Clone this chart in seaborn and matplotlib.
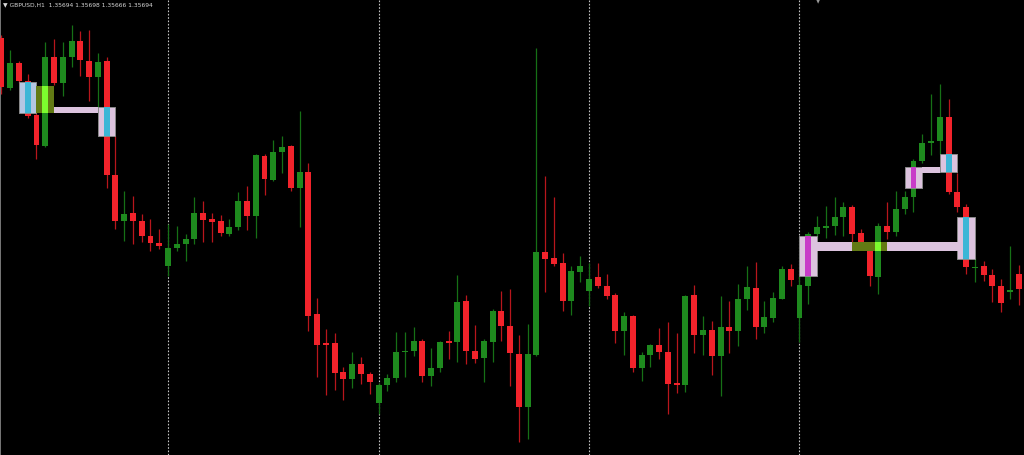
import numpy as np
import pandas as pd
import matplotlib
matplotlib.use("Agg")
import matplotlib.pyplot as plt
import seaborn as sns
from matplotlib.patches import Rectangle

# =====================================================
# DATA - GBPUSD H1 candles
# =====================================================

opens = [
    1.36945, 1.36695, 1.36820, 1.36730, 1.36560, 1.36405, 1.36850, 1.36720, 1.36850, 1.36930,
    1.36830, 1.36750, 1.36830, 1.36260, 1.36030, 1.36070, 1.36030, 1.35955, 1.35920, 1.35805,
    1.35895, 1.35915, 1.35940, 1.36070, 1.36040, 1.36030, 1.35965, 1.36000, 1.36130, 1.36055,
    1.36355, 1.36235, 1.36375, 1.36405, 1.36195, 1.36275, 1.35565, 1.35420, 1.35420, 1.35275,
    1.35240, 1.35315, 1.35265, 1.35120, 1.35210, 1.35245, 1.35375, 1.35380, 1.35430, 1.35255,
    1.35295, 1.35430, 1.35425, 1.35630, 1.35380, 1.35345, 1.35425, 1.35580, 1.35505, 1.35365,
    1.35100, 1.35360, 1.35875, 1.35845, 1.35820, 1.35630, 1.35775, 1.35680, 1.35750, 1.35705,
    1.35660, 1.35480, 1.35555, 1.35295, 1.35360, 1.35410, 1.35375, 1.35220, 1.35210, 1.35660,
    1.35460, 1.35485, 1.35355, 1.35500, 1.35480, 1.35640, 1.35695, 1.35500, 1.35545, 1.35640,
    1.35790, 1.35545, 1.35705, 1.35965, 1.35995, 1.36005, 1.36050, 1.36100, 1.35970, 1.35910,
    1.35750, 1.36005, 1.35975, 1.36090, 1.36150, 1.36330, 1.36420, 1.36430, 1.36550, 1.36175,
    1.36100, 1.35795, 1.35805, 1.35760, 1.35705, 1.35675, 1.35765,
]
highs = [
    1.36960, 1.36885, 1.36830, 1.36765, 1.36570, 1.36925, 1.36940, 1.36925, 1.37010, 1.36980,
    1.36985, 1.36870, 1.36850, 1.36455, 1.36180, 1.36155, 1.36065, 1.36040, 1.35990, 1.36015,
    1.36005, 1.35965, 1.36150, 1.36130, 1.36070, 1.36060, 1.36040, 1.36175, 1.36205, 1.36365,
    1.36365, 1.36435, 1.36455, 1.36410, 1.36580, 1.36320, 1.35645, 1.35490, 1.35470, 1.35300,
    1.35375, 1.35350, 1.35275, 1.35220, 1.35265, 1.35475, 1.35475, 1.35500, 1.35440, 1.35395,
    1.35430, 1.35480, 1.35760, 1.35660, 1.35510, 1.35440, 1.35590, 1.35680, 1.35690, 1.35460,
    1.35515, 1.36895, 1.36255, 1.36150, 1.35870, 1.35805, 1.35855, 1.35820, 1.35820, 1.35765,
    1.35670, 1.35575, 1.35560, 1.35375, 1.35415, 1.35495, 1.35525, 1.35470, 1.35660, 1.35710,
    1.35555, 1.35530, 1.35655, 1.35630, 1.35715, 1.35805, 1.35825, 1.35630, 1.35675, 1.35805,
    1.35815, 1.35755, 1.35975, 1.36055, 1.36105, 1.36150, 1.36125, 1.36110, 1.35990, 1.35920,
    1.36020, 1.36125, 1.36180, 1.36180, 1.36340, 1.36465, 1.36665, 1.36715, 1.36640, 1.36270,
    1.36115, 1.35850, 1.35830, 1.35790, 1.35740, 1.35905, 1.35810,
]
lows = [
    1.36665, 1.36685, 1.36720, 1.36545, 1.36340, 1.36400, 1.36710, 1.36655, 1.36800, 1.36755,
    1.36630, 1.36590, 1.36195, 1.35990, 1.35930, 1.35915, 1.35925, 1.35880, 1.35890, 1.35755,
    1.35880, 1.35830, 1.35915, 1.35925, 1.35925, 1.35955, 1.35955, 1.35985, 1.35985, 1.35945,
    1.36160, 1.36230, 1.36270, 1.36180, 1.36000, 1.35480, 1.35250, 1.35160, 1.35185, 1.35135,
    1.35195, 1.35215, 1.35165, 1.35065, 1.35180, 1.35225, 1.35250, 1.35355, 1.35225, 1.35205,
    1.35275, 1.35340, 1.35325, 1.35315, 1.35320, 1.35225, 1.35325, 1.35430, 1.35205, 1.34925,
    1.34940, 1.35355, 1.35675, 1.35805, 1.35580, 1.35560, 1.35725, 1.35605, 1.35695, 1.35640,
    1.35420, 1.35360, 1.35275, 1.35230, 1.35300, 1.35340, 1.35065, 1.35170, 1.35175, 1.35370,
    1.35360, 1.35260, 1.35155, 1.35370, 1.35405, 1.35585, 1.35440, 1.35470, 1.35525, 1.35640,
    1.35705, 1.35425, 1.35615, 1.35940, 1.35945, 1.35960, 1.35955, 1.35925, 1.35890, 1.35705,
    1.35665, 1.35940, 1.35955, 1.36065, 1.36075, 1.36320, 1.36360, 1.36365, 1.36165, 1.36075,
    1.35765, 1.35725, 1.35730, 1.35625, 1.35575, 1.35640, 1.35610,
]
closes = [
    1.36700, 1.36820, 1.36730, 1.36555, 1.36410, 1.36850, 1.36720, 1.36850, 1.36930, 1.36835,
    1.36750, 1.36825, 1.36260, 1.36030, 1.36065, 1.36030, 1.35955, 1.35920, 1.35905, 1.35895,
    1.35915, 1.35940, 1.36070, 1.36035, 1.36025, 1.35970, 1.36000, 1.36130, 1.36055, 1.36360,
    1.36240, 1.36375, 1.36400, 1.36195, 1.36275, 1.35555, 1.35410, 1.35410, 1.35270, 1.35240,
    1.35315, 1.35265, 1.35225, 1.35210, 1.35245, 1.35375, 1.35380, 1.35430, 1.35255, 1.35295,
    1.35425, 1.35420, 1.35625, 1.35380, 1.35340, 1.35430, 1.35580, 1.35505, 1.35370, 1.35100,
    1.35365, 1.35875, 1.35840, 1.35815, 1.35630, 1.35780, 1.35805, 1.35740, 1.35705, 1.35655,
    1.35480, 1.35555, 1.35295, 1.35360, 1.35410, 1.35375, 1.35215, 1.35210, 1.35655, 1.35460,
    1.35485, 1.35355, 1.35500, 1.35480, 1.35640, 1.35700, 1.35500, 1.35550, 1.35645, 1.35790,
    1.35735, 1.35710, 1.35965, 1.36000, 1.36005, 1.36050, 1.36100, 1.35965, 1.35910, 1.35755,
    1.36005, 1.35975, 1.36090, 1.36150, 1.36330, 1.36420, 1.36430, 1.36550, 1.36175, 1.36100,
    1.35800, 1.35800, 1.35760, 1.35705, 1.35620, 1.35685, 1.35690,
]

# first bar of each trading day (period separators)
day_breaks = [19, 43, 67, 91]

# order-block zones: bar range, price range, marked bar, zone type
zone_start = [2, 11, 91, 109, 103, 107]
zone_end = [4, 13, 93, 111, 105, 109]
zone_top = [1.36725, 1.36600, 1.35955, 1.36050, 1.36300, 1.36365]
zone_bottom = [1.36570, 1.36455, 1.35755, 1.35840, 1.36195, 1.36275]
zone_bar = [3, 12, 92, 110, 104, 108]
zone_type = ["origin", "bear", "bull", "bear", "bull", "bear"]

# links between zones
link_start = [6, 93, 105]
link_end = [11, 109, 107]
link_top = [1.36600, 1.35925, 1.36300]
link_bottom = [1.36570, 1.35880, 1.36270]

# touch / break zones
touch_start = [4, 97]
touch_end = [6, 101]
touch_top = [1.36705, 1.35925]
touch_bottom = [1.36570, 1.35880]
touch_bar = [5, 100]

title_text = "\u25bc GBPUSD,H1  1.35694 1.35698 1.35666 1.35694"

df = pd.DataFrame({"open": opens, "high": highs, "low": lows, "close": closes})
df["bar"] = np.arange(len(df))
df["up"] = df["close"] >= df["open"]

# =====================================================
# STYLE
# =====================================================

sns.set_style("dark", {"axes.facecolor": "black", "figure.facecolor": "black"})

up_body = "#1e8a1e"
down_body = "#f2232b"
up_wick = "#167016"
down_wick = "#b8161c"
zone_face = {"origin": "#b3c6e2", "bear": "#dcc3de", "bull": "#dcc3de"}
zone_mark = {"origin": "#3cb6d6", "bear": "#3cb6d6", "bull": "#c83cc8"}
body_w = 0.68

fig = plt.figure(figsize=(10.24, 4.56), dpi=100)
ax = fig.add_axes([0, 0, 1, 1])
ax.set_facecolor("black")

# =====================================================
# CANDLES
# =====================================================

wick_colors = np.where(df["up"], up_wick, down_wick)
ax.vlines(df["bar"], df["low"], df["high"], colors=wick_colors, linewidth=0.9, zorder=2)

body_colors = np.where(df["up"], up_body, down_body)
body_h = (df["close"] - df["open"]).abs().clip(lower=0.00006)
body_b = df[["open", "close"]].min(axis=1)
ax.bar(df["bar"], body_h, bottom=body_b, width=body_w, color=body_colors,
       linewidth=0, zorder=3)

# =====================================================
# ZONES
# =====================================================

for s, e, t, b, m, k in zip(zone_start, zone_end, zone_top, zone_bottom, zone_bar, zone_type):
    ax.add_patch(Rectangle((s, b), e - s, t - b, facecolor=zone_face[k],
                           edgecolor="#8a8a8a", linewidth=0.7, zorder=4))
    ax.add_patch(Rectangle((m - body_w / 2, b), body_w, t - b,
                           facecolor=zone_mark[k], linewidth=0, zorder=6))

for s, e, t, b in zip(link_start, link_end, link_top, link_bottom):
    ax.add_patch(Rectangle((s - 0.05, b), e - s + 0.1, t - b, facecolor="#dcc3de",
                           linewidth=0, zorder=5))

for s, e, t, b, m in zip(touch_start, touch_end, touch_top, touch_bottom, touch_bar):
    ax.add_patch(Rectangle((s, b), e - s, t - b, facecolor="#627a14",
                           linewidth=0, zorder=5.5))
    ax.add_patch(Rectangle((m - body_w / 2, b), body_w, t - b,
                           facecolor="#7dfc2e", linewidth=0, zorder=6))

# =====================================================
# SEPARATORS + FRAME
# =====================================================

for d in day_breaks:
    ax.axvline(d, color="#c4c4c4", linestyle=(0, (1.5, 1.5)), linewidth=0.8, zorder=1)

ax.set_xlim(-0.16, 116.6)
ax.set_ylim(1.3486, 1.3714)
ax.set_xticks([])
ax.set_yticks([])
for side in ["top", "right", "bottom"]:
    ax.spines[side].set_visible(False)
ax.spines["left"].set_color("#8c8c8c")
ax.spines["left"].set_linewidth(1.2)

fig.text(0.003, 0.989, title_text, fontsize=4.3, color="#d8d8d8",
         va="center", ha="left", family=["DejaVu Sans"])
# chart shift marker
fig.text(0.799, 0.997, "\u25bc", fontsize=4, color="#9a9a9a", va="center", ha="center")

fig.savefig("out.png", dpi=100, facecolor="black")
